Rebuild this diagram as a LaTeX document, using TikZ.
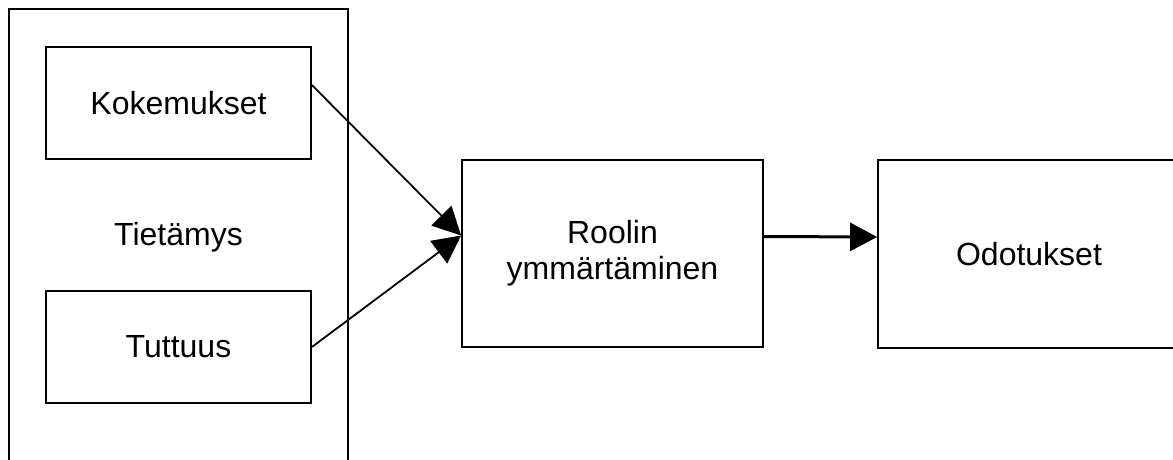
\documentclass[tikz,border=0pt]{standalone}
\usepackage{fontspec}
\setmainfont{Liberation Sans}
\usetikzlibrary{arrows.meta}
\begin{document}
\begin{tikzpicture}[x=1pt,y=-1pt,
  every node/.style={font=\fontsize{32}{36}\selectfont, align=center, inner sep=0pt},
  box/.style={draw, line width=1.8pt},
  link/.style={line width=1.8pt, -{Triangle[length=28pt,width=28pt]}},
  flow/.style={line width=3pt, -{Triangle[length=27pt,width=28pt]}}]
  \useasboundingbox (0,0) rectangle (1173,459);
  \clip (0,0) rectangle (1173,459);
  % knowledge container
  \node[box, minimum width=339pt, minimum height=456pt] (tiet) at (178.5,237) {Tiet\"amys};
  \node[box, minimum width=265pt, minimum height=112pt] (kok) at (178.5,103) {Kokemukset};
  \node[box, minimum width=265pt, minimum height=112pt] (tut) at (178.5,347) {Tuttuus};
  % role understanding and expectations
  \node[box, minimum width=301pt, minimum height=187pt] (rool) at (612.5,253.5) {Roolin\\ymm\"art\"aminen};
  \node[box, minimum width=330pt, minimum height=188pt,
        label={[xshift=-14pt]center:Odotukset}] (odo) at (1043,254) {};
  % connectors
  \draw[link] ([yshift=18pt]kok.east) -- ([yshift=18pt]rool.west);
  \draw[link] (tut.east) -- ([yshift=18pt]rool.west);
  \draw[flow] ([yshift=17pt]rool.east) -- ([yshift=17pt]odo.west);
\end{tikzpicture}
\end{document}
